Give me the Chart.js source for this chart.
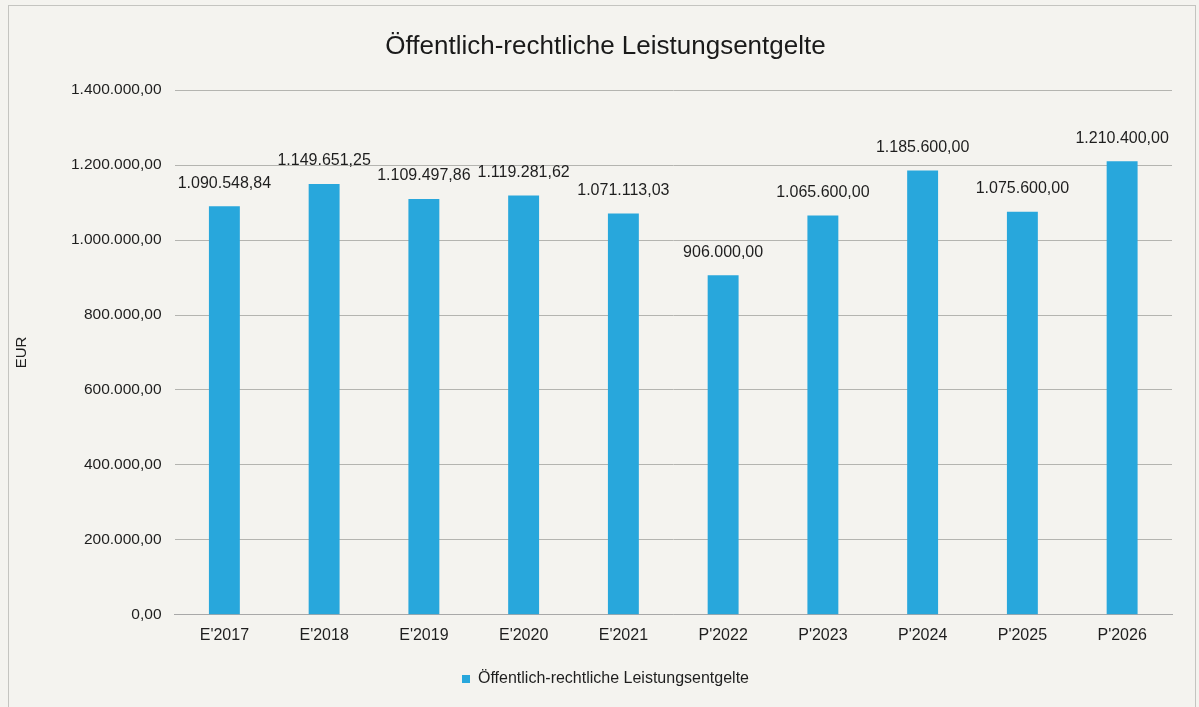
<!DOCTYPE html>
<html>
<head>
<meta charset="utf-8">
<script src="https://cdn.jsdelivr.net/npm/chart.js@4/dist/chart.umd.min.js"></script>
<style>
  body { margin: 0; background: #f4f3ef; }
  #box { position: absolute; left: 8px; top: 5px; width: 1186px; height: 702px; border: 1px solid #c4c4c0; border-bottom: none; }
  #myChart { display: block; }
</style>
</head>
<body>
<div id="box"><canvas id="myChart" width="1186" height="702"></canvas></div>
<script>
'use strict';

// categories and values (E = Ergebnis, P = Plan)
let years = ["E'2017", "E'2018", "E'2019", "E'2020", "E'2021", "P'2022", "P'2023", "P'2024", "P'2025", "P'2026"];
let entgelte = [1090548.84, 1149651.25, 1109497.86, 1119281.62, 1071113.03, 906000.00, 1065600.00, 1185600.00, 1075600.00, 1210400.00];
let yTicks = [0, 200000, 400000, 600000, 800000, 1000000, 1200000, 1400000];
let seriesName = 'Öffentlich-rechtliche Leistungsentgelte';

// german number format 1.234.567,89
function formatEur(v) {
    let parts = v.toFixed(2).split('.');
    let whole = parts[0].replace(/\B(?=(\d{3})+(?!\d))/g, '.');
    return whole + ',' + parts[1];
}

Chart.defaults.font.family = '"Liberation Sans", Arial, sans-serif';
Chart.defaults.color = '#1e1e1e';

// value labels above the bars
let barLabels = {
    id: 'barLabels',
    afterDatasetsDraw(chart) {
        let ctx = chart.ctx;
        let meta = chart.getDatasetMeta(0);
        ctx.save();
        ctx.font = '16px "Liberation Sans", Arial, sans-serif';
        ctx.fillStyle = '#1e1e1e';
        ctx.textAlign = 'center';
        ctx.textBaseline = 'bottom';
        meta.data.forEach(function (bar, i) {
            ctx.fillText(formatEur(entgelte[i]), bar.x, bar.y - 15);
        });
        ctx.restore();
    }
};

let ctx = document.getElementById('myChart').getContext('2d');
let myChart = new Chart(ctx, {
    type: 'bar',
    data: {
        labels: years,
        datasets: [{
            label: seriesName,
            data: entgelte,
            backgroundColor: '#28a7dc',
            barPercentage: 0.62,
            categoryPercentage: 0.5
        }]
    },
    options: {
        responsive: false,
        animation: false,
        layout: { padding: { left: 30, right: 23, top: 0, bottom: 11 } },
        plugins: {
            title: {
                display: true,
                text: seriesName,
                font: { size: 26, weight: 'normal' },
                color: '#1a1a1a',
                padding: { top: 25, bottom: 28 }
            },
            legend: {
                position: 'bottom',
                labels: {
                    boxWidth: 8,
                    boxHeight: 8,
                    font: { size: 16 },
                    padding: 16
                }
            },
            tooltip: { enabled: false }
        },
        scales: {
            x: {
                grid: { display: false },
                border: { color: '#a8a8a8' },
                ticks: { font: { size: 16 }, padding: 3, maxRotation: 0 },
                afterFit(axis) { axis.height += 7; }
            },
            y: {
                min: 0,
                max: 1400000,
                afterBuildTicks(axis) {
                    axis.ticks = yTicks.map(function (v) { return { value: v }; });
                },
                grid: { color: '#b4b4b0', drawTicks: false },
                border: { display: false },
                ticks: {
                    font: { size: 15.5 },
                    padding: 13,
                    callback: function (v) { return formatEur(v); }
                },
                title: {
                    display: true,
                    text: 'EUR',
                    font: { size: 15 },
                    padding: { top: -26, bottom: 27 }
                }
            }
        }
    },
    plugins: [barLabels]
});
</script>
</body>
</html>
